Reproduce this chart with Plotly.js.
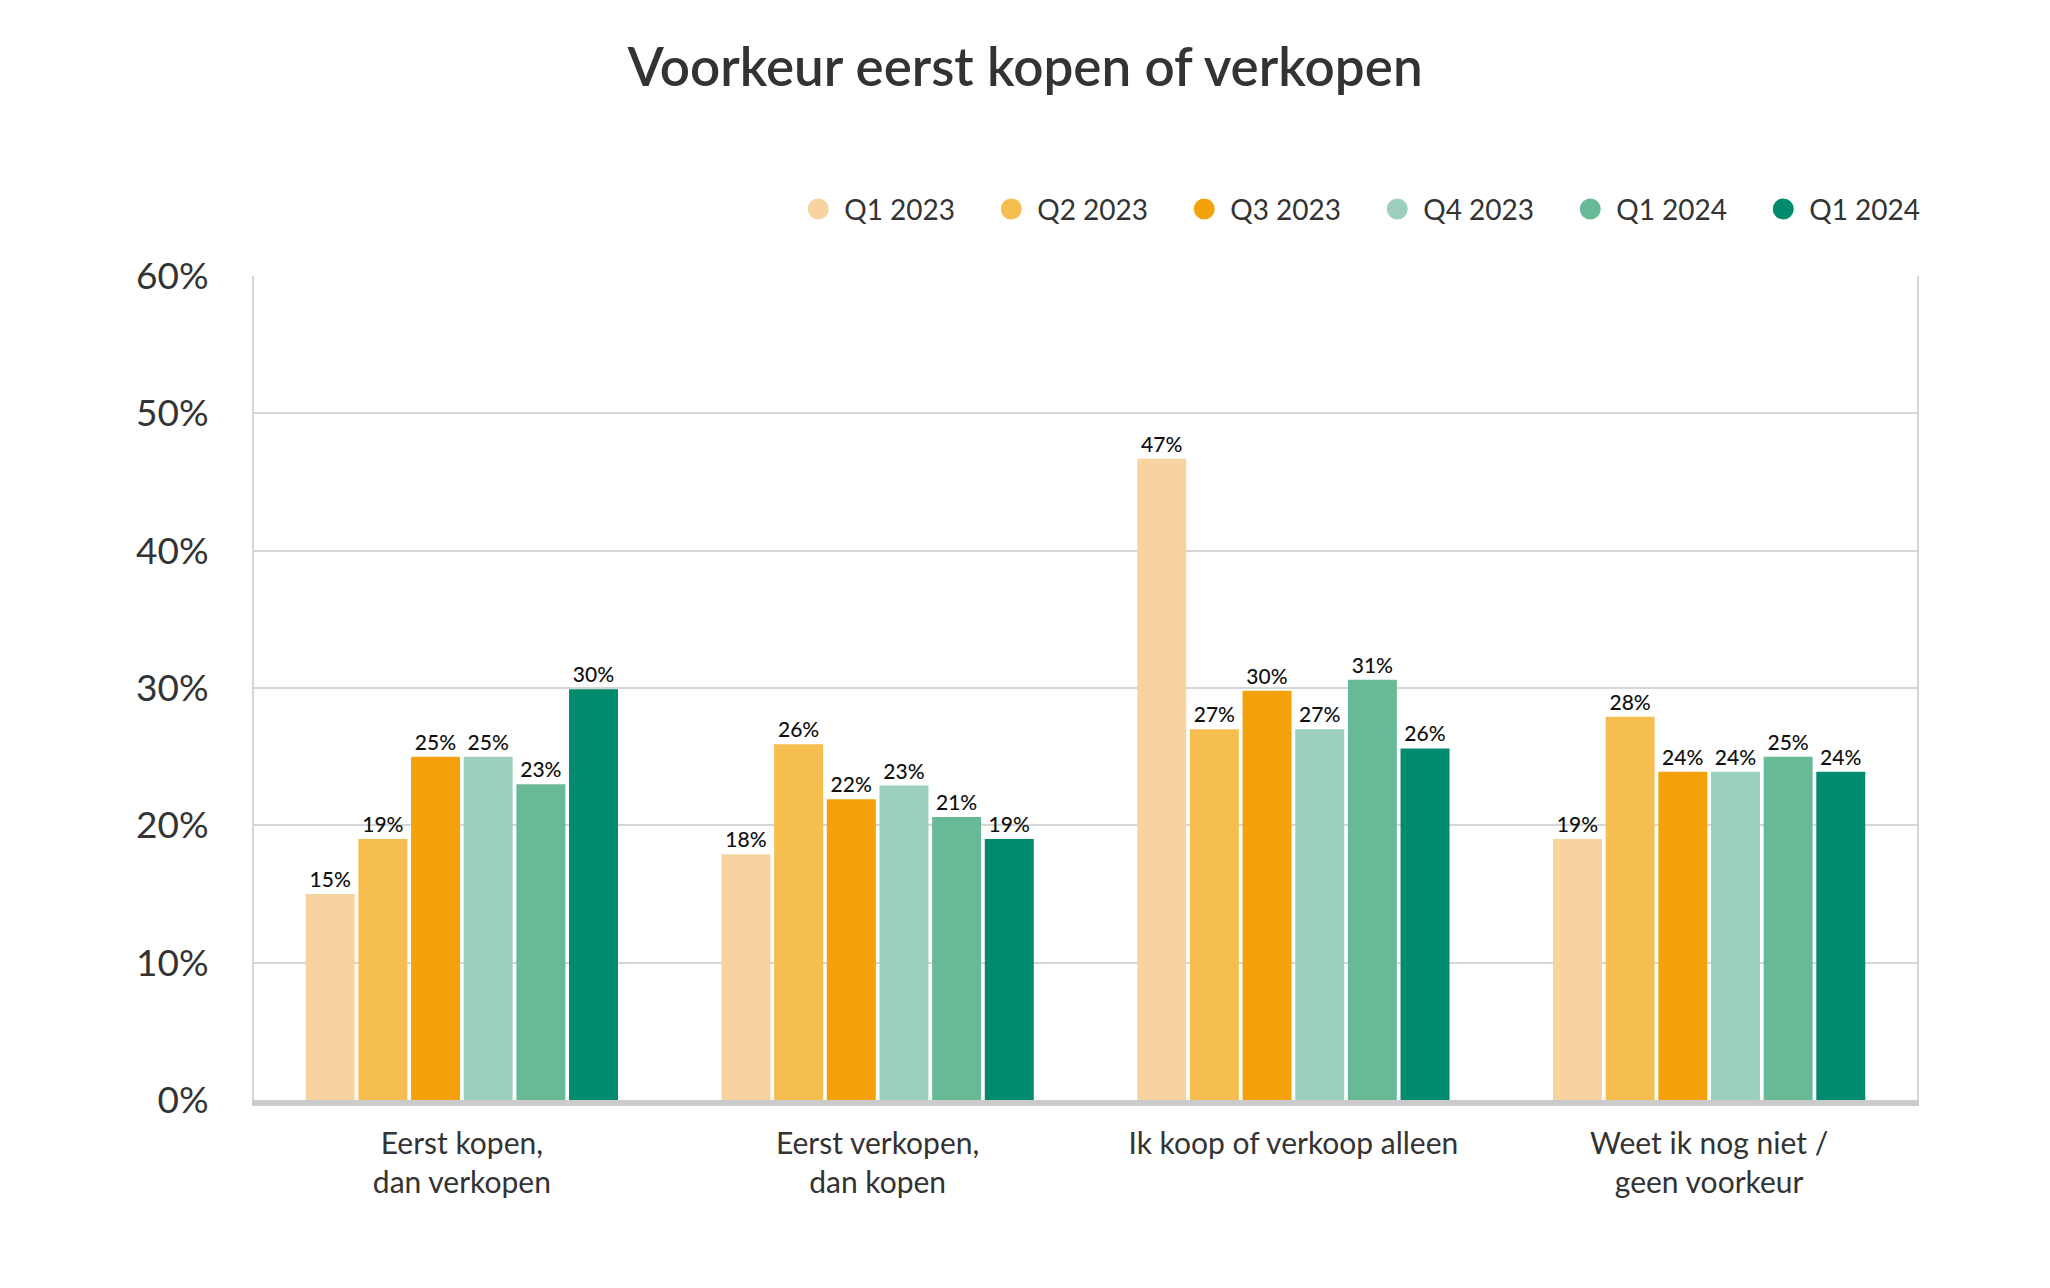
<!DOCTYPE html>
<html>
<head>
<meta charset="utf-8">
<script src="https://cdn.plot.ly/plotly-3.0.1.min.js"></script>
<style>
  html, body { margin: 0; padding: 0; background: #ffffff; }
  #chart { width: 2050px; height: 1288px; }
</style>
</head>
<body>
<div id="chart"></div>
<script>
// ---- Data ----
const categories = [
  "Eerst kopen,<br>dan verkopen",
  "Eerst verkopen,<br>dan kopen",
  "Ik koop of verkoop alleen",
  "Weet ik nog niet /<br>geen voorkeur"
];
const seriesNames = ["Q1 2023", "Q2 2023", "Q3 2023", "Q4 2023", "Q1 2024", "Q1 2024"];
const q1_2023 = [15.0, 17.9, 46.7, 19.0];
const q2_2023 = [19.0, 25.9, 27.0, 27.9];
const q3_2023 = [25.0, 21.9, 29.8, 23.9];
const q4_2023 = [25.0, 22.9, 27.0, 23.9];
const q1_2024a = [23.0, 20.6, 30.6, 25.0];
const q1_2024b = [29.9, 19.0, 25.6, 23.9];
const seriesValues = [q1_2023, q2_2023, q3_2023, q4_2023, q1_2024a, q1_2024b];
const seriesColors = ["#F7D3A0", "#F6BE4E", "#F3A20B", "#9CD0BC", "#68B996", "#008B6E"];
const yTickVals = [0, 10, 20, 30, 40, 50, 60];
const yTickText = ["0%", "10%", "20%", "30%", "40%", "50%", "60%"];

const FONT = "Lato, 'Open Sans', sans-serif";

const traces = [];
seriesValues.forEach((vals, i) => {
  traces.push({
    type: "bar",
    x: categories,
    y: vals,
    name: seriesNames[i],
    marker: { color: seriesColors[i] },
    text: vals.map(v => Math.round(v) + "%"),
    textposition: "outside",
    textfont: { family: FONT, size: 21, color: "#111111", weight: 500 },
    cliponaxis: false,
    showlegend: false,
    hoverinfo: "x+y"
  });
});
// legend entries with round symbols
seriesNames.forEach((n, i) => {
  traces.push({
    type: "scatter",
    mode: "markers",
    x: [null],
    y: [null],
    name: n,
    marker: { color: seriesColors[i], size: 16, symbol: "circle",
              line: { color: seriesColors[i], width: 5 } },
    showlegend: true,
    hoverinfo: "skip"
  });
});

const layout = {
  width: 2050,
  height: 1288,
  paper_bgcolor: "#ffffff",
  plot_bgcolor: "#ffffff",
  font: { family: FONT, color: "#333333" },
  title: {
    text: "Voorkeur eerst kopen of verkopen",
    font: { family: FONT, size: 53, color: "#333333", weight: 600 },
    x: 0.5, xanchor: "center",
    y: 0.948, yanchor: "middle"
  },
  margin: { l: 254, r: 133, t: 276, b: 188 },
  barmode: "group",
  bargap: 0.24,
  bargroupgap: 0.07,
  showlegend: true,
  legend: {
    orientation: "h",
    x: 1.02, xanchor: "right",
    y: 1.081, yanchor: "middle",
    font: { family: FONT, size: 28, color: "#333333" },
    itemwidth: 42,
    entrywidth: 136,
    traceorder: "normal",
    bgcolor: "rgba(0,0,0,0)"
  },
  xaxis: {
    type: "category",
    range: [-0.5, 3.5],
    showgrid: false,
    showline: true,
    linecolor: "#CBCBCB",
    linewidth: 6,
    mirror: false,
    ticks: "",
    tickfont: { family: FONT, size: 30, color: "#333333" },
    ticklabelstandoff: 12,
    zeroline: false,
    fixedrange: true
  },
  yaxis: {
    range: [0, 60],
    tickvals: yTickVals,
    ticktext: yTickText,
    showgrid: true,
    gridcolor: "#D6D6D6",
    gridwidth: 2,
    showline: true,
    linecolor: "#D6D6D6",
    linewidth: 2,
    mirror: true,
    zeroline: false,
    ticks: "",
    tickfont: { family: FONT, size: 37, color: "#333333" },
    ticklabelstandoff: 36,
    fixedrange: true
  }
};

Plotly.newPlot("chart", traces, layout, { displayModeBar: false, staticPlot: true });
</script>
</body>
</html>
